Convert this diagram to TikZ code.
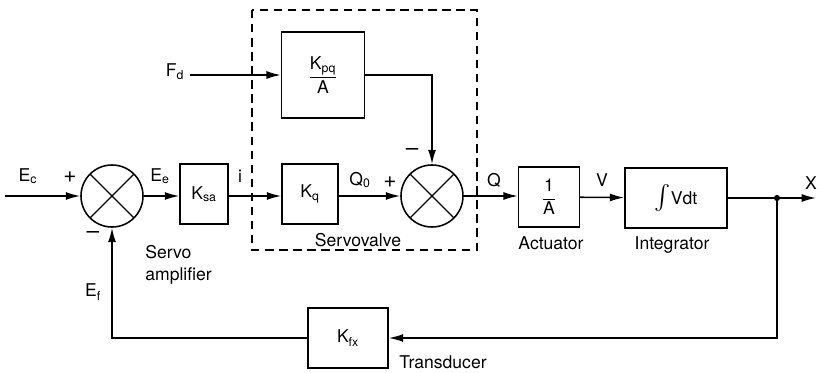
\documentclass[tikz,border=0pt]{standalone}
\usepackage{amsmath}
\usepackage{fontspec}
\setmainfont{TeX Gyre Heros}
\usetikzlibrary{arrows.meta,positioning}
\tikzset{
  >={Latex[length=3.6mm,width=2mm]},
  block/.style={draw,line width=1.1pt,inner sep=0pt,minimum width=1.3cm,minimum height=1.5cm,font=\fontsize{12.5}{15}\selectfont},
  sumj/.style={draw,circle,line width=1.1pt,minimum size=1.55cm,inner sep=0pt,
    path picture={\draw[line width=0.8pt] (path picture bounding box.north west) -- (path picture bounding box.south east)
      (path picture bounding box.north east) -- (path picture bounding box.south west);}},
  sig/.style={->,line width=1.1pt},
  lbl/.style={font=\fontsize{12.5}{16}\selectfont,inner sep=0pt},
  sign/.style={font=\fontsize{16}{16}\selectfont,inner sep=0pt},
  frame/.style={line width=0.8pt,dash pattern=on 6pt off 4pt},
}
\begin{document}
\begin{tikzpicture}[x=0.025cm,y=-0.025cm]
  \useasboundingbox (0,0) rectangle (820,373);
  \draw[frame] (252,10) rectangle (477,250);
  \node[sumj] (s1) at (112,196) {};
  \node[block,minimum width=1.2cm] (ksa) at (204,194) {K\textsubscript{sa}};
  \node[block,minimum width=2.07cm,minimum height=2.15cm] (kpq) at (323,75) {$\displaystyle\frac{\textrm{K\textsubscript{pq}}}{\textrm{A}}$};
  \node[block,minimum width=1.4cm] (kq) at (310,194) {K\textsubscript{q}};
  \node[sumj] (s2) at (432,196) {};
  \node[block,minimum width=1.52cm] (act) at (549,197) {$\displaystyle\frac{\textrm{1}}{\textrm{A}}$};
  \node[block,minimum width=2.55cm] (int) at (676,198) {{\fontsize{18}{18}\selectfont$\int$}Vdt};
  \node[block,minimum width=2cm] (kfx) at (348,338) {K\textsubscript{fx}};
  \coordinate (ec) at (5,196);
  \coordinate (fd) at (190,75);
  \coordinate (xo) at (816,198);
  \coordinate (tap) at (777,198);
  \draw[sig] (ec) -- (s1);
  \draw[sig] (s1) -- (s1 -| ksa.west);
  \draw[sig] (ksa.east |- s1) -- (s1 -| kq.west);
  \draw[sig] (fd) -- (kpq);
  \draw[sig] (kpq.east) -| (s2.north);
  \draw[sig] (kq.east |- s2) -- (s2);
  \draw[sig] (s2) -- (s2 -| act.west);
  \draw[sig] (act) -- (int);
  \draw[sig] (int) -- (xo);
  \fill (tap) circle (2.2pt);
  \draw[sig] (tap) |- (kfx);
  \draw[sig] (kfx) -| (s1);
  \node[lbl] (lec) at (28,176) {E\textsubscript{c}};
  \node[sign] (p1) at (70,177) {+};
  \node[sign] (m1) at (93,235) {\textendash};
  \node[lbl] (lee) at (160,176) {E\textsubscript{e}};
  \node[lbl] (li) at (240,176) {i};
  \node[lbl] (lfd) at (175,72) {F\textsubscript{d}};
  \node[lbl] (lq0) at (360,180) {Q\textsubscript{0}};
  \node[sign] (p2) at (390,182) {+};
  \node[sign] (m2) at (412,152) {\textendash};
  \node[lbl] (lq) at (494,180) {Q};
  \node[lbl] (lv) at (602,180) {V};
  \node[lbl] (lx) at (811,183) {X};
  \node[lbl] (lef) at (93,292) {E\textsubscript{f}};
  \node[lbl,align=left,anchor=north west] (lsa) at (145,245) {Servo\\amplifier};
  \node[lbl] (lsv) at (358,240) {Servovalve};
  \node[lbl] (lac) at (551,243) {Actuator};
  \node[lbl] (lin) at (672,245) {Integrator};
  \node[lbl] (ltr) at (443,362) {Transducer};
\end{tikzpicture}
\end{document}
